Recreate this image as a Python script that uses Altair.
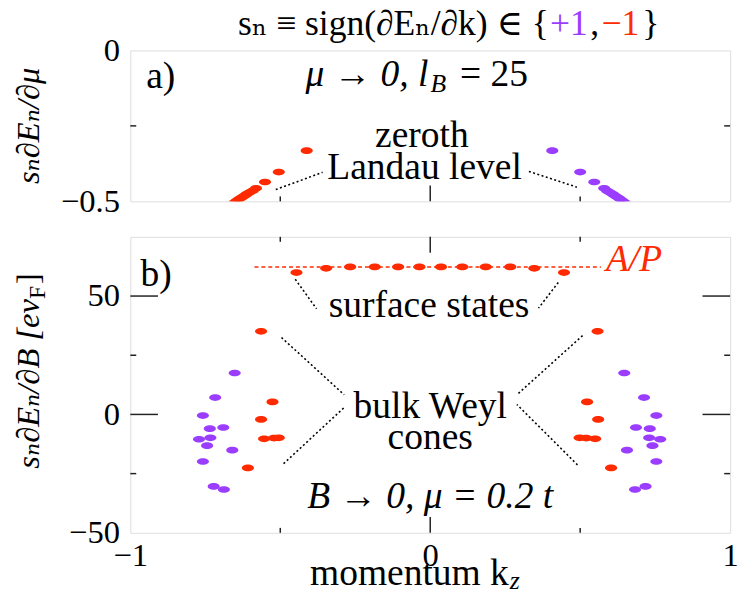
import altair as alt
import pandas as pd

# ---------------- data ----------------
# panel a: zeroth Landau level
a_red_k = [-0.412, -0.505, -0.551, -0.581, -0.592, -0.603, -0.613, -0.622, -0.630, -0.638, -0.645, -0.652]
a_red_v = [-0.332, -0.403, -0.436, -0.457, -0.465, -0.471, -0.477, -0.483, -0.488, -0.493, -0.498, -0.503]
a_pur_k = [0.407, 0.500, 0.547, 0.580, 0.590, 0.600, 0.610, 0.619, 0.627, 0.634, 0.641, 0.648]
a_pur_v = [-0.332, -0.403, -0.436, -0.457, -0.465, -0.471, -0.477, -0.483, -0.488, -0.493, -0.498, -0.503]

# panel b: surface states (all -1)
surf_k = [-0.446, -0.347, -0.267, -0.185, -0.107, -0.036, 0.036, 0.107, 0.185, 0.267, 0.347, 0.446]
surf_v = [59.9, 61.7, 62.3, 62.3, 62.3, 62.3, 62.3, 62.3, 62.3, 62.3, 61.7, 59.9]

# panel b: bulk Weyl cones
b_red_k = [-0.564, -0.526, -0.564, -0.554, -0.521, -0.505, -0.608,
           0.558, 0.523, 0.560, 0.550, 0.520, 0.498, 0.603]
b_red_v = [35.1, 5.3, -2.1, -10.3, -10.0, -9.9, -22.6,
           35.1, 5.3, -2.1, -10.3, -10.0, -9.9, -22.6]
b_pur_k = [-0.652, -0.717, -0.758, -0.735, -0.690, -0.771, -0.733, -0.744, -0.660, -0.758, -0.722, -0.688,
           0.647, 0.713, 0.754, 0.732, 0.686, 0.767, 0.730, 0.741, 0.656, 0.754, 0.718, 0.683]
b_pur_v = [17.5, 7.1, -0.5, -6.0, -5.5, -10.5, -9.9, -13.2, -15.1, -19.9, -30.4, -31.7,
           17.5, 7.1, -0.5, -6.0, -5.5, -10.5, -9.9, -13.2, -15.1, -19.9, -30.4, -31.7]

# A/P reference line
ap_k = [-0.586, 0.569]
ap_v = 62.3

# axis tick values
xticks = [-0.5, 0, 0.5]
ya_labels = [0, -0.5]
yb_labels = [-50, 0, 50]
yb_ticks = [-25, 0, 25, 50]
x_labels = [-1, 0, 1]

# ---------------- style ----------------
RED = "#ff2a00"
PURPLE = "#9b3dff"
FONT = "'Liberation Serif', 'Times New Roman', 'DejaVu Serif', serif"
W, HA, HB = 608, 153, 300
ELL = "M -1 0 A 1 0.55 0 1 0 1 0 A 1 0.55 0 1 0 -1 0 Z"
FS = 38
TFS = 36

xs = alt.Scale(domain=[-1, 1], nice=False, zero=False)
ysa = alt.Scale(domain=[-0.5, 0], nice=False, zero=False)
ysb = alt.Scale(domain=[-50, 75], nice=False, zero=False)
cs = alt.Scale(domain=["+1", "−1"], range=[PURPLE, RED])

ax_common = dict(ticks=False, domain=False, grid=False, tickSize=0, title=None,
                 labelFont=FONT, labelFontSize=33, labelColor="black", labelOverlap=False,
                 labelFlush=False, format="~r")
XA = alt.X("k:Q", scale=xs, axis=None)
YA = alt.Y("v:Q", scale=ysa, axis=alt.Axis(values=ya_labels, labelPadding=11, **ax_common))
XB = alt.X("k:Q", scale=xs, axis=alt.Axis(values=x_labels, labelPadding=7, **ax_common))
YB = alt.Y("v:Q", scale=ysb, axis=alt.Axis(values=yb_labels, labelPadding=11, **ax_common))


def points(ks, vs, sign, X, Y):
    df = pd.DataFrame({"k": ks, "v": vs, "s": sign})
    return alt.Chart(df).mark_point(shape=ELL, filled=True, size=150, opacity=1,
                                    strokeWidth=0, clip=True).encode(
        x=X, y=Y, color=alt.Color("s:N", scale=cs, legend=None))


def rules(rows, X, Y, **mk):
    df = pd.DataFrame(rows, columns=["k", "v", "k2", "v2"])
    return alt.Chart(df).mark_rule(**mk).encode(x=X, y=Y, x2="k2:Q", y2="v2:Q")


def txt(rows, X, Y, **mk):
    df = pd.DataFrame(rows, columns=["k", "v", "t"])
    base = dict(font=FONT, fontSize=FS, color="black", align="center", baseline="alphabetic")
    base.update(mk)
    return alt.Chart(df).mark_text(**base).encode(x=X, y=Y, text="t:N")


# ---------------- panel a ----------------
LX, SX = 28 / 304, 6 / 304
LYA, SYA = 16 / 306, 5 / 306
ticks_a = ([(t, -0.5, t, -0.5 + (LYA if t == 0 else SYA)) for t in xticks]
           + [(-1, -0.25, -1 + SX, -0.25), (1, -0.25, 1 - SX, -0.25)])
lead_a = [(-0.515, -0.461, -0.359, -0.404), (0.329, -0.401, 0.489, -0.453)]
TV = 0.0523  # title baseline

panel_a = alt.layer(
    rules(ticks_a, XA, YA, color="#222", strokeWidth=1.5),
    rules(lead_a, XA, YA, color="black", strokeWidth=1.6, strokeDash=[2, 2.5]),
    points(a_red_k, a_red_v, "−1", XA, YA),
    points(a_pur_k, a_pur_v, "+1", XA, YA),
    txt([(-0.947, -0.124, "a)")], XA, YA, align="left"),
    txt([(-0.006, -0.118, "μ → 0,  l")], XA, YA, align="right", fontStyle="italic"),
    txt([(0.001, -0.137, "B")], XA, YA, align="left", fontSize=26, fontStyle="italic"),
    txt([(0.099, -0.118, "= 25")], XA, YA, align="left"),
    txt([(-0.028, -0.320, "zeroth"), (-0.019, -0.425, "Landau level")], XA, YA),
    # title pieces
    txt([(0.395, TV, "sₙ  ≡  sign(∂Eₙ/∂k)  ∈  {")], XA, YA, align="right", fontSize=TFS),
    txt([(0.462, TV, "+1")], XA, YA, fontSize=TFS, color=PURPLE),
    txt([(0.548, TV, ",")], XA, YA, fontSize=TFS),
    txt([(0.634, TV, "−1")], XA, YA, fontSize=TFS, color=RED),
    txt([(0.735, TV, "}")], XA, YA, fontSize=TFS),
    # y title
    txt([(-1.306, -0.25, "sₙ∂Eₙ/∂μ")], XA, YA, angle=270, fontSize=33, fontStyle="italic"),
).properties(width=W, height=HA)

# ---------------- panel b ----------------
LYB, SYB = 16 / 2.4, 5 / 2.4
ticks_b = ([(t, -50, t, -50 + (LYB if t == 0 else SYB)) for t in xticks]
           + [(t, 75, t, 75 - (LYB if t == 0 else SYB)) for t in xticks]
           + [(-1, t, -1 + (LX if t % 50 == 0 else SX), t) for t in yb_ticks]
           + [(1, t, 1 - (LX if t % 50 == 0 else SX), t) for t in yb_ticks])
lead_b = [(-0.45, 57.1, -0.379, 44.6), (0.427, 55.7, 0.361, 44.9),
          (-0.496, 32.5, -0.287, 8.3), (-0.489, -20.8, -0.287, 2.9),
          (0.508, 33.3, 0.289, 8.3), (0.491, -21.3, 0.289, 4.2)]

panel_b = alt.layer(
    rules(ticks_b, XB, YB, color="#222", strokeWidth=1.5),
    rules(lead_b, XB, YB, color="black", strokeWidth=1.6, strokeDash=[2, 2.5]),
    rules([(ap_k[0], ap_v, ap_k[1], ap_v)], XB, YB, color=RED, strokeWidth=1.6, strokeDash=[4, 3]),
    points(surf_k, surf_v, "−1", XB, YB),
    points(b_red_k, b_red_v, "−1", XB, YB),
    points(b_pur_k, b_pur_v, "+1", XB, YB),
    txt([(-0.966, 54.2, "b)")], XB, YB, align="left"),
    txt([(-0.004, 41.25, "surface states"), (0.0, -1.7, "bulk Weyl"), (0.0, -14.6, "cones")], XB, YB),
    txt([(0.0, -39.6, "B → 0,  μ = 0.2 t")], XB, YB, fontStyle="italic"),
    txt([(0.586, 60.4, "A/P")], XB, YB, align="left", color=RED, fontStyle="italic"),
    # x title
    txt([(0.262, -72.1, "momentum k")], XB, YB, align="right"),
    txt([(0.265, -73.75, "z")], XB, YB, align="left", fontSize=26, fontStyle="italic"),
    # y title
    txt([(-1.306, (417 - 300) / 2.4, "sₙ∂Eₙ/∂B [ev")], XB, YB, angle=270, align="right",
        fontSize=33, fontStyle="italic"),
    txt([(-1.286, (417 - 300) / 2.4, "F")], XB, YB, angle=270, align="left", fontSize=24),
    txt([(-1.306, (417 - 285) / 2.4, "]")], XB, YB, angle=270, align="left", fontSize=33),
).properties(width=W, height=HB)

chart = alt.vconcat(panel_a, panel_b, spacing=16).properties(
    padding={"left": 4, "top": -7, "right": 0, "bottom": -8}
).configure_view(stroke="#222", strokeWidth=1.6).configure(background="white")

chart.save("out.html", embed_options={"renderer": "svg", "actions": False})
